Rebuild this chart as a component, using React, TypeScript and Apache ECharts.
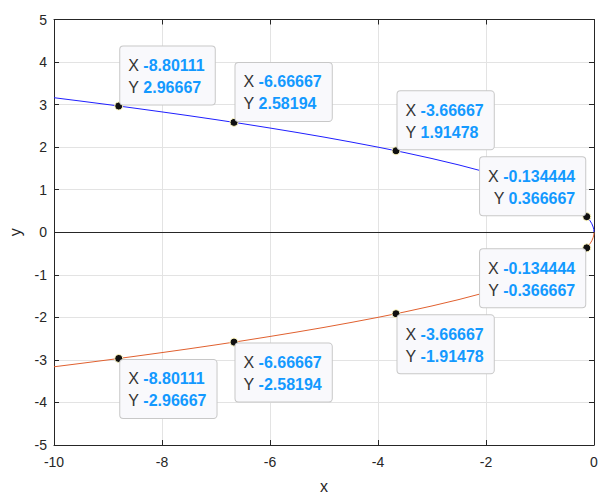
import React, { useEffect, useRef } from 'react';
import * as echarts from 'echarts';

// Curve points (upper: blue, lower: orange-red)
const curveX = [-10, -9.5, -9, -8.80111, -8.5, -8, -7.5, -7, -6.66667, -6.5, -6, -5.5, -5, -4.5, -4, -3.66667, -3.5, -3, -2.5, -2, -1.5, -1, -0.75, -0.5, -0.3, -0.2, -0.134444, -0.08, -0.04, -0.015, -0.004, 0];
const upperY = [3.162, 3.082, 3.0, 2.96667, 2.915, 2.828, 2.739, 2.646, 2.58194, 2.55, 2.449, 2.345, 2.236, 2.121, 2.0, 1.91478, 1.871, 1.732, 1.581, 1.414, 1.225, 1.0, 0.866, 0.707, 0.548, 0.447, 0.366667, 0.283, 0.2, 0.122, 0.063, 0];
const lowerY = [-3.162, -3.082, -3.0, -2.96667, -2.915, -2.828, -2.739, -2.646, -2.58194, -2.55, -2.449, -2.345, -2.236, -2.121, -2.0, -1.91478, -1.871, -1.732, -1.581, -1.414, -1.225, -1.0, -0.866, -0.707, -0.548, -0.447, -0.366667, -0.283, -0.2, -0.122, -0.063, 0];

// Data tips
const tipX = [-8.80111, -6.66667, -3.66667, -0.134444];
const tipUpperY = [2.96667, 2.58194, 1.91478, 0.366667];
const tipLowerY = [-2.96667, -2.58194, -1.91478, -0.366667];

const xLabel = 'x';
const yLabel = 'y';

const FONT = 'Liberation Sans, Arial, Helvetica, sans-serif';
const AXIS_COLOR = '#262626';
const GRID_COLOR = '#e3e3e3';

export default function App() {
  const ref = useRef<HTMLDivElement>(null);

  useEffect(() => {
    if (!ref.current) return;
    const chart = echarts.init(ref.current, undefined, { renderer: 'svg' });

    const tipLabelBase = {
      show: true,
      formatter: (p: any) => `{l|X }{v|${p.value[0]}}\n{l|Y }{v|${p.value[1]}}`,
      backgroundColor: '#f9f9fc',
      borderColor: '#c8c8c8',
      borderWidth: 1,
      borderRadius: 3,
      padding: [8, 10, 6, 8],
      lineHeight: 22,
      rich: {
        l: { fontFamily: FONT, fontSize: 16, color: '#333333', lineHeight: 22 },
        v: { fontFamily: FONT, fontSize: 16, fontWeight: 'bold', color: '#1399ff', lineHeight: 22 },
      },
    };

    const upperTips = tipX.map((x, i) => {
      const last = i === tipX.length - 1;
      return {
        value: [x, tipUpperY[i]],
        label: last
          ? { position: [3, 3], align: 'right', verticalAlign: 'bottom' }
          : { position: [6, 3], align: 'left', verticalAlign: 'bottom' },
      };
    });
    const lowerTips = tipX.map((x, i) => {
      const last = i === tipX.length - 1;
      return {
        value: [x, tipLowerY[i]],
        label: last
          ? { position: [3, 6], align: 'right', verticalAlign: 'top' }
          : { position: [6, 6], align: 'left', verticalAlign: 'top' },
      };
    });

    const axisCommon = {
      axisLine: { show: true, onZero: false, lineStyle: { color: AXIS_COLOR, width: 1 } },
      axisTick: { show: true, inside: true, length: 5, lineStyle: { color: AXIS_COLOR } },
    };

    chart.setOption({
      animation: false,
      grid: { left: 54, right: 8, top: 19.5, bottom: 51, containLabel: false, outerBoundsMode: 'none' },
      xAxis: [
        {
          type: 'value', min: -10, max: 0, interval: 2, position: 'bottom',
          ...axisCommon,
          axisLabel: { color: AXIS_COLOR, fontFamily: FONT, fontSize: 14, margin: 10 },
          splitLine: { show: true, lineStyle: { color: GRID_COLOR } },
          name: xLabel, nameLocation: 'middle', nameGap: 33,
          nameTextStyle: { color: AXIS_COLOR, fontFamily: FONT, fontSize: 16 },
        },
        {
          type: 'value', min: -10, max: 0, interval: 2, position: 'top',
          ...axisCommon,
          axisLabel: { show: false },
          splitLine: { show: false },
        },
      ],
      yAxis: [
        {
          type: 'value', min: -5, max: 5, interval: 1, position: 'left',
          ...axisCommon,
          axisLabel: { color: AXIS_COLOR, fontFamily: FONT, fontSize: 14, margin: 7 },
          splitLine: { show: true, lineStyle: { color: GRID_COLOR } },
          name: yLabel, nameLocation: 'middle', nameGap: 29, nameRotate: 90,
          nameTextStyle: { color: AXIS_COLOR, fontFamily: FONT, fontSize: 16 },
        },
        {
          type: 'value', min: -5, max: 5, interval: 1, position: 'right',
          ...axisCommon,
          axisLabel: { show: false },
          splitLine: { show: false },
        },
      ],
      series: [
        {
          type: 'line',
          data: curveX.map((x, i) => [x, upperY[i]]),
          showSymbol: false,
          lineStyle: { color: '#1f1fff', width: 1 },
          z: 2,
          markLine: {
            silent: true,
            symbol: ['none', 'none'],
            label: { show: false },
            lineStyle: { color: AXIS_COLOR, width: 1, type: 'solid' },
            data: [{ yAxis: 0 }],
          },
        },
        {
          type: 'line',
          data: curveX.map((x, i) => [x, lowerY[i]]),
          showSymbol: false,
          lineStyle: { color: '#e0602f', width: 1 },
          z: 2,
        },
        {
          type: 'scatter',
          data: upperTips,
          symbol: 'circle',
          symbolSize: 8,
          itemStyle: { color: '#111111', borderColor: '#fff8c0', borderWidth: 1, opacity: 1 },
          label: tipLabelBase,
          z: 5,
        },
        {
          type: 'scatter',
          data: lowerTips,
          symbol: 'circle',
          symbolSize: 8,
          itemStyle: { color: '#111111', borderColor: '#fff8c0', borderWidth: 1, opacity: 1 },
          label: tipLabelBase,
          z: 5,
        },
      ],
    });

    return () => chart.dispose();
  }, []);

  return <div ref={ref} style={{ width: 602, height: 496, position: 'absolute', left: 0, top: 0, background: '#fff' }} />;
}
